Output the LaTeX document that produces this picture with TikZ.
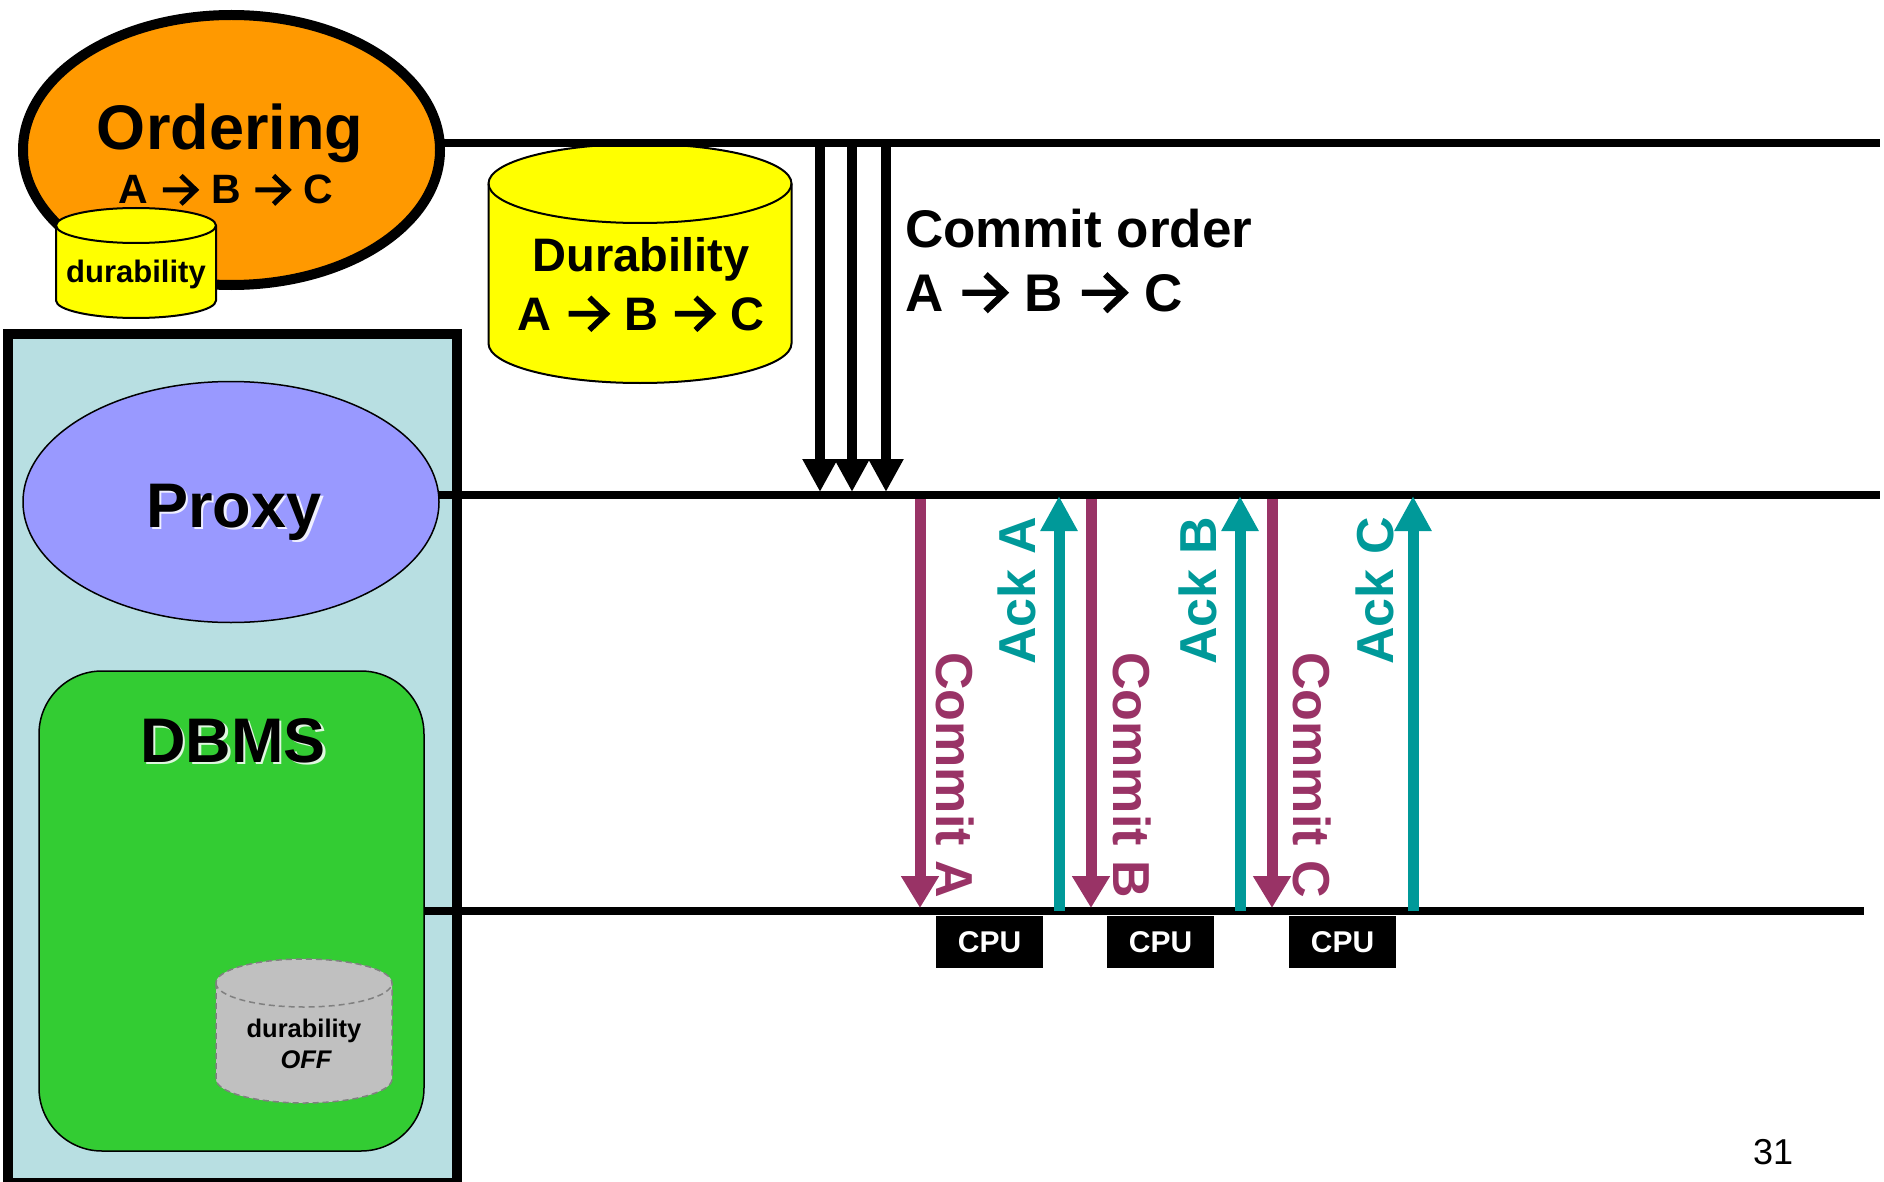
\documentclass[tikz,border=0pt]{standalone}
\usepackage{fontspec}
\setmainfont{Liberation Sans}
\usetikzlibrary{arrows.meta,shapes.geometric}
\definecolor{ordc}{HTML}{FF9900}
\definecolor{yelc}{HTML}{FFFF00}
\definecolor{boxc}{HTML}{B8DFE2}
\definecolor{proxc}{HTML}{9999FF}
\definecolor{dbmsc}{HTML}{33CC33}
\definecolor{greyc}{HTML}{C0C0C0}
\definecolor{dashc}{HTML}{808080}
\definecolor{magc}{HTML}{993366}
\definecolor{tealc}{HTML}{009999}
\newcommand\fsz[1]{\fontsize{#1}{#1}\selectfont}
\newcommand\rar{\hspace{0.06em}\tikz[baseline=0pt,x=1em,y=1em,line width=0.12em,miter limit=4]{\path[use as bounding box] (0,0) rectangle (0.86,0.7); \draw (0.02,0.345) -- (0.8,0.345) (0.46,0.69) -- (0.82,0.345) -- (0.46,0);}\hspace{0.06em}}
\newcommand\mycyl[6]{%
  \path[#6] ({#1-#4},{-#2}) -- ({#1-#4},{-#3}) arc[start angle=180,end angle=360,x radius=#4,y radius=#5] -- ({#1+#4},{-#2}) arc[start angle=0,end angle=180,x radius=#4,y radius=#5] -- cycle;
  \path[#6,fill=none] ({#1-#4},{-#2}) arc[start angle=180,end angle=360,x radius=#4,y radius=#5];}
\begin{document}
\begin{tikzpicture}[x=1pt,y=1pt,
  bus/.style={line width=8pt},
  ordarrow/.style={line width=10pt,-{Triangle[width=33pt,length=33pt]}},
  commitarr/.style={draw=magc,line width=11pt,-{Triangle[width=36pt,length=32pt]}},
  ackarr/.style={draw=tealc,line width=11pt,-{Triangle[width=35pt,length=35pt]}},
  lbl/.style={inner sep=0pt,outer sep=0pt},
  commitlbl/.style={lbl,text=magc,rotate=-90,font=\bfseries\fsz{52}},
  acklbl/.style={lbl,text=tealc,rotate=90,font=\bfseries\fsz{52}},
  cpu/.style={fill=black,text=white,minimum width=107pt,minimum height=52pt,inner sep=0pt,font=\bfseries\fsz{30}},
  shadowtxt/.style={lbl,text=white,opacity=0.85}
]
\useasboundingbox (0,0) rectangle (1884,-1182);

% ---------- left column ----------
\path[fill=boxc,draw=black,line width=10pt] (8,-334) rectangle (456.5,-1183);
\node[ellipse,draw=black,line width=1.5pt,fill=proxc,minimum width=416pt,minimum height=241pt,inner sep=0pt] (proxy) at (231,-502) {};
\node[shadowtxt,anchor=base,font=\bfseries\fsz{63}] at (236.5,-529.5) {Proxy};
\node[lbl,anchor=base,font=\bfseries\fsz{63}] (proxyt) at (234,-527) {Proxy};

\path[fill=dbmsc,draw=black,line width=1.5pt,rounded corners=63pt] (39,-671) rectangle (424,-1151);
\coordinate (dbmsE) at (424,-911);
\node[shadowtxt,anchor=base,font=\bfseries\fsz{63}] at (235.5,-764.5) {DBMS};
\node[lbl,anchor=base,font=\bfseries\fsz{63}] (dbmst) at (233,-762) {DBMS};

\mycyl{304}{983}{1079}{88}{24}{fill=greyc,draw=dashc,line width=1.5pt,dash pattern=on 6pt off 4pt}
\node[lbl,anchor=base,font=\bfseries\fsz{25.5}] (offa) at (304,-1037) {durability};
\node[lbl,anchor=base,font=\bfseries\itshape\fsz{25.5}] (offb) at (306,-1068) {OFF};

% ---------- ordering ----------
\node[ellipse,draw=black,line width=10pt,fill=ordc,minimum width=417pt,minimum height=270pt,inner sep=0pt] (ord) at (231.5,-150) {};
\node[lbl,anchor=base,font=\bfseries\fsz{63}] (ordt) at (230,-150) {Ordering};
\node[lbl,anchor=base,font=\bfseries\fsz{41}] (ords) at (226,-204) {A \rar{} B \rar{} C};
\mycyl{136}{225.5}{300.5}{80}{17.5}{fill=yelc,draw=black,line width=2pt}
\node[lbl,anchor=base,font=\bfseries\fsz{31}] (durs) at (136,-283) {durability};

% ---------- durability cylinder ----------
\mycyl{640}{183.5}{343.5}{151.5}{39.5}{fill=yelc,draw=black,line width=2pt}
\node[lbl,anchor=base,font=\bfseries\fsz{47}] (durt) at (641,-272) {Durability};
\node[lbl,anchor=base,font=\bfseries\fsz{47}] (durs2) at (641,-330) {A \rar{} B \rar{} C};

% ---------- lifelines ----------
\coordinate (topL) at (436,-143);
\coordinate (topR) at (1880,-143);
\coordinate (midL) at (438,-495);
\coordinate (midR) at (1880,-495);
\coordinate (botR) at (1864,-911);
\draw[bus] (topL) -- (topR);
\draw[bus] (midL) -- (midR);
\draw[bus] (dbmsE) -- (botR);

% ---------- ordering arrows ----------
\foreach \xx [count=\i] in {820,852,886}{
  \coordinate (oa\i) at (\xx,-143);
  \coordinate (ob\i) at (\xx,-492);
  \draw[ordarrow] (oa\i) -- (ob\i);
}
\node[lbl,anchor=base west,font=\bfseries\fsz{53}] (cot) at (905,-248) {Commit order};
\node[lbl,anchor=base west,font=\bfseries\fsz{53}] (cos) at (905,-311) {A \rar{} B \rar{} C};

% ---------- commit / ack ----------
\foreach \xx [count=\i] in {920,1091,1272}{
  \coordinate (ca\i) at (\xx,-499);
  \coordinate (cb\i) at (\xx,-908);
  \draw[commitarr] (ca\i) -- (cb\i);
}
\foreach \xx [count=\i] in {1059,1240,1413}{
  \coordinate (aa\i) at (\xx,-911);
  \coordinate (ab\i) at (\xx,-496);
  \draw[ackarr] (aa\i) -- (ab\i);
}
\node[commitlbl] (cta) at (955,-775) {Commit A};
\node[commitlbl] (ctb) at (1132,-775) {Commit B};
\node[commitlbl] (ctc) at (1312,-775) {Commit C};
\node[acklbl] (ata) at (1017,-591) {Ack A};
\node[acklbl] (atb) at (1198,-591) {Ack B};
\node[acklbl] (atc) at (1375,-591) {Ack C};

% ---------- CPUs ----------
\node[cpu] (cpu1) at (989.5,-942) {CPU};
\node[cpu] (cpu2) at (1160.5,-942) {CPU};
\node[cpu] (cpu3) at (1342.5,-942) {CPU};

% ---------- page number ----------
\node[lbl,anchor=base,font=\fsz{36}] (pg) at (1773,-1164) {31};
\end{tikzpicture}
\end{document}
